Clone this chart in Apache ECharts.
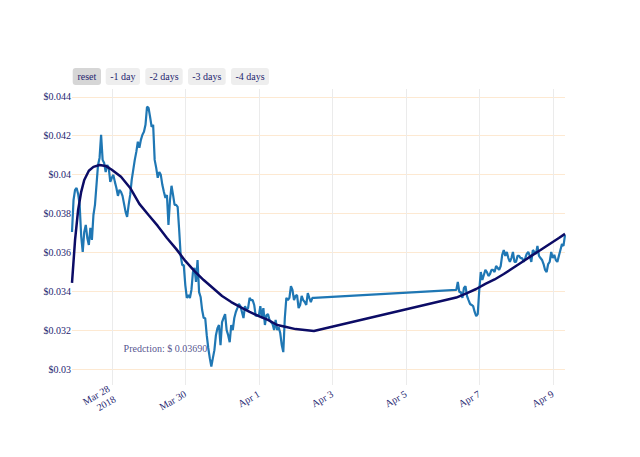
<!DOCTYPE html>
<html>
<head>
<meta charset="utf-8">
<script src="https://cdn.jsdelivr.net/npm/echarts@6/dist/echarts.min.js"></script>
<style>
html,body{margin:0;padding:0;background:#ffffff;}
#chart{width:640px;height:457px;}
</style>
</head>
<body>
<div id="chart"></div>
<script>
// ---------- data ----------
const baseTime = '2018-03-26T00:00:00Z';          // hour offsets are counted from here
const block1StartHour = 22;                         // Mar 26 22:00
const block2StartHour = 273;                        // Apr 6 09:00
const sampleStepHours = 1;

const block1Prices = [
  0.03706, 0.03870, 0.03922, 0.03932, 0.03901, 0.03845, 0.03685, 0.03603, 0.03706, 0.03742,
  0.03675, 0.03639, 0.03727, 0.03665, 0.03793, 0.03845, 0.03948, 0.04050, 0.04086, 0.04205,
  0.04076, 0.04060, 0.04014, 0.04050, 0.04035, 0.03963, 0.03984, 0.03999, 0.03963, 0.03932,
  0.03891, 0.03922, 0.03912, 0.03891, 0.03850, 0.03809, 0.03783, 0.03845, 0.03896, 0.03973,
  0.04025, 0.04076, 0.04117, 0.04169, 0.04138, 0.04179, 0.04205, 0.04220, 0.04256, 0.04349,
  0.04343, 0.04297, 0.04246, 0.04256, 0.04076, 0.04035, 0.03984, 0.04014, 0.03999, 0.03948,
  0.03912, 0.03881, 0.03896, 0.03742, 0.03870, 0.03943, 0.03896, 0.03845, 0.03845, 0.03835,
  0.03716, 0.03583, 0.03536, 0.03536, 0.03433, 0.03367, 0.03382, 0.03367, 0.03408, 0.03500,
  0.03521, 0.03449, 0.03562, 0.03397, 0.03372, 0.03305, 0.03264, 0.03264, 0.03176, 0.03110,
  0.03058, 0.03015, 0.03058, 0.03099, 0.03176, 0.03212, 0.03228, 0.03125, 0.03243, 0.03264,
  0.03284, 0.03202, 0.03176, 0.03140, 0.03228, 0.03202, 0.03264, 0.03295, 0.03315, 0.03336,
  0.03325, 0.03295, 0.03264, 0.03325, 0.03305, 0.03315, 0.03367, 0.03356, 0.03356, 0.03331,
  0.03274, 0.03279, 0.03274, 0.03325, 0.03264, 0.03315, 0.03228, 0.03279, 0.03284, 0.03254,
  0.03243, 0.03233, 0.03202, 0.03254, 0.03202, 0.03217, 0.03187, 0.03125, 0.03089, 0.03264,
  0.03367, 0.03356, 0.03367, 0.03428, 0.03408, 0.03356, 0.03377, 0.03382, 0.03315, 0.03331,
  0.03377, 0.03356, 0.03346, 0.03331, 0.03392, 0.03367, 0.03346, 0.03367, 0.03367
];

const block2Prices = [
  0.03408, 0.03449, 0.03397, 0.03397, 0.03367, 0.03418, 0.03428, 0.03377, 0.03356, 0.03336,
  0.03331, 0.03325, 0.03295, 0.03274, 0.03284, 0.03408, 0.03500, 0.03459, 0.03485, 0.03511,
  0.03500, 0.03480, 0.03490, 0.03511, 0.03511, 0.03500, 0.03531, 0.03521, 0.03511, 0.03531,
  0.03588, 0.03613, 0.03583, 0.03603, 0.03572, 0.03552, 0.03572, 0.03603, 0.03552, 0.03552,
  0.03583, 0.03583, 0.03572, 0.03572, 0.03552, 0.03572, 0.03593, 0.03603, 0.03583, 0.03552,
  0.03613, 0.03603, 0.03593, 0.03634, 0.03583, 0.03572, 0.03562, 0.03541, 0.03511, 0.03500,
  0.03541, 0.03552, 0.03603, 0.03572, 0.03588, 0.03562, 0.03552, 0.03583, 0.03613, 0.03644,
  0.03634, 0.03690
];

const predictionHours = [
  22, 24, 26, 28, 30, 33, 36, 40, 44, 48, 54, 60, 66, 72, 78, 84, 90, 96, 102, 108,
  114, 120, 126, 132, 138, 144, 150, 156, 162, 168, 174, 180,
  273, 280, 286, 292, 298, 304, 310, 316, 322, 328, 334, 340, 344
];
const predictionValues = [
  0.03444, 0.03665, 0.03819, 0.03912, 0.03973, 0.04020, 0.04040, 0.04050, 0.04045, 0.04025,
  0.03989, 0.03932, 0.03850, 0.03793, 0.03737, 0.03675, 0.03619, 0.03557, 0.03505, 0.03459,
  0.03418, 0.03377, 0.03346, 0.03320, 0.03295, 0.03274, 0.03254, 0.03228, 0.03218, 0.03207,
  0.03202, 0.03197,
  0.03369, 0.03392, 0.03413, 0.03439, 0.03462, 0.03490, 0.03521, 0.03552, 0.03583, 0.03613,
  0.03644, 0.03675, 0.03696
];

const predictionValue = 0.03690;
const annotationTime = '2018-03-29T11:00:00Z';
const annotationPrice = 0.0311;

const yTicks = [0.03, 0.032, 0.034, 0.036, 0.038, 0.04, 0.042, 0.044];
const yMin = 0.0292, yMax = 0.0444;
const xTickDates = ['2018-03-28', '2018-03-30', '2018-04-01', '2018-04-03', '2018-04-05', '2018-04-07', '2018-04-09'];
const buttonLabels = ['reset', '-1 day', '-2 days', '-3 days', '-4 days'];

// ---------- build ----------
const HOUR = 3600 * 1000;
const base = Date.parse(baseTime);
const priceData = [];
block1Prices.forEach((v, i) => priceData.push([base + (block1StartHour + i * sampleStepHours) * HOUR, v]));
block2Prices.forEach((v, i) => priceData.push([base + (block2StartHour + i * sampleStepHours) * HOUR, v]));
const predData = predictionHours.map((h, i) => [base + h * HOUR, predictionValues[i]]);
const xTicks = xTickDates.map(d => Date.parse(d + 'T00:00:00Z'));
const MONTHS = ['Jan','Feb','Mar','Apr','May','Jun','Jul','Aug','Sep','Oct','Nov','Dec'];

const TXT = '#25256f';
const FONT = 'Liberation Serif';

// buttons (UI chrome, not data)
const btnX = [72.7, 105.7, 145.3, 188, 231];
const btnW = [28.3, 34.3, 37.4, 37.7, 38];
const graphics = [];
buttonLabels.forEach((lab, i) => {
  graphics.push({
    type: 'rect', left: btnX[i], top: 68,
    shape: { width: btnW[i], height: 17, r: 3 },
    style: { fill: i === 0 ? '#d6d6d6' : '#eeeeee' }
  });
  graphics.push({
    type: 'text', x: btnX[i] + btnW[i] / 2, y: 76.5,
    style: { text: lab, fill: TXT, fontSize: 10, fontFamily: FONT, align: 'center', verticalAlign: 'middle' }
  });
});

const chart = echarts.init(document.getElementById('chart'), null, { renderer: 'svg' });
chart.setOption({
  animation: false,
  backgroundColor: '#ffffff',
  grid: { left: 72, top: 89, width: 493, height: 296, containLabel: false },
  graphic: graphics,
  xAxis: {
    type: 'value',
    min: priceData[0][0],
    max: priceData[priceData.length - 1][0],
    axisLine: { show: false },
    axisTick: { show: false, customValues: xTicks },
    splitLine: { show: true, lineStyle: { color: '#ebebeb', width: 1 } },
    axisLabel: {
      customValues: xTicks,
      rotate: 30,
      margin: 8,
      color: TXT,
      fontSize: 10,
      fontFamily: FONT,
      lineHeight: 12,
      align: 'right',
      formatter: v => {
        const d = new Date(v);
        const s = MONTHS[d.getUTCMonth()] + ' ' + d.getUTCDate();
        return v === xTicks[0] ? s + '\n' + d.getUTCFullYear() : s;
      }
    }
  },
  yAxis: {
    type: 'value',
    min: yMin,
    max: yMax,
    axisLine: { show: false },
    axisTick: { show: false, customValues: yTicks },
    splitLine: { show: true, lineStyle: { color: '#fde9d2', width: 1 } },
    axisLabel: {
      customValues: yTicks,
      margin: 1,
      color: TXT,
      fontSize: 10,
      fontFamily: FONT,
      formatter: v => '$' + parseFloat(v.toFixed(4))
    }
  },
  series: [
    {
      name: 'price',
      type: 'line',
      data: priceData,
      showSymbol: false,
      smooth: false,
      lineStyle: { color: '#1f77b4', width: 2.2 },
      z: 2
    },
    {
      name: 'prediction',
      type: 'line',
      data: predData,
      showSymbol: false,
      smooth: false,
      lineStyle: { color: '#0c0c66', width: 2.5 },
      z: 3
    },
    {
      name: 'annotation',
      type: 'scatter',
      data: [[Date.parse(annotationTime), annotationPrice]],
      symbolSize: 0,
      silent: true,
      label: {
        show: true,
        position: 'inside',
        formatter: 'Predction: $ ' + predictionValue.toFixed(5),
        color: TXT,
        fontSize: 10,
        fontFamily: FONT
      },
      z: 4
    }
  ]
});
</script>
</body>
</html>
